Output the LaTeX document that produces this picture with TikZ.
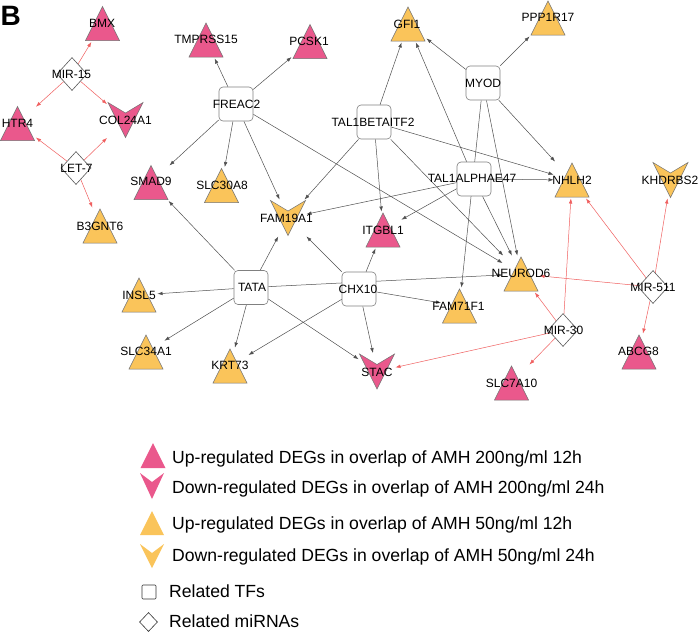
\documentclass[tikz,border=0pt]{standalone}
\usepackage{fontspec}
\setmainfont{Liberation Sans}
\usetikzlibrary{arrows.meta,shapes.geometric}
\pgfdeclarelayer{paper}
\pgfdeclarelayer{edges}
\pgfsetlayers{paper,edges,main}
\definecolor{gpink}{RGB}{234,88,140}
\definecolor{gyel}{RGB}{250,196,90}
\definecolor{tfedge}{RGB}{80,80,80}
\definecolor{miredge}{RGB}{240,95,95}
\newcommand{\GeneUp}[4]{%
  \fill[#4, draw=black!55, line width=0.5pt] (#2,#3) ++(0,-17) -- ++(17,34) -- ++(-34,0) -- cycle;
  \node[gn] (#1) at (#2,#3) {};}
\newcommand{\GeneDown}[4]{%
  \fill[#4, draw=black!55, line width=0.5pt] (#2,#3) ++(-17.5,-17.5) -- ++(17.5,10.5) -- ++(17.5,-10.5) -- ++(-17.5,35) -- cycle;
  \node[gn] (#1) at (#2,#3) {};}
\begin{document}
\begin{tikzpicture}[x=1pt,y=-1pt,
  gn/.style={rectangle, minimum width=34pt, minimum height=34pt, inner sep=0pt, outer sep=1.5pt},
  tf/.style={rectangle, draw=black!50, fill=white, rounded corners=4pt, minimum size=34pt, inner sep=0pt, line width=0.6pt},
  mir/.style={diamond, draw=black!65, fill=white, minimum width=30pt, minimum height=33pt, inner sep=0pt, line width=0.6pt},
  lbl/.style={inner sep=0pt, font=\fontsize{12}{14}\selectfont, text height=8.6pt, text depth=0pt},
  leg/.style={anchor=west, inner sep=0pt, font=\fontsize{17.6}{20}\selectfont, text height=12.6pt, text depth=0pt},
  tfe/.style={draw=tfedge, line width=0.5pt, -{Latex[length=5pt,width=3.6pt]}},
  mie/.style={draw=miredge, line width=0.5pt, -{Latex[length=5pt,width=3.6pt]}}]
\begin{pgfonlayer}{paper}
\fill[white] (0,0) rectangle (700,633);
\end{pgfonlayer}
\useasboundingbox (0,0) rectangle (700,633);

% panel letter
\node[anchor=west, inner sep=0pt, font=\fontsize{28}{30}\selectfont\bfseries, text height=20pt, text depth=0pt] (panel) at (0.5,15) {B};

% genes
\GeneUp{bmx}{102.5}{23.5}{gpink}
\GeneUp{tmprss}{206}{40}{gpink}
\GeneUp{pcsk}{310}{41.5}{gpink}
\GeneUp{gfi}{408}{24}{gyel}
\GeneUp{ppp}{548}{18}{gyel}
\GeneUp{htr}{17.5}{123.5}{gpink}
\GeneDown{col}{125.5}{120}{gpink}
\GeneUp{smad}{151}{182.5}{gpink}
\GeneUp{slc30}{221.5}{185.5}{gyel}
\GeneUp{b3g}{100}{226}{gyel}
\GeneDown{fam19}{288}{218}{gyel}
\GeneUp{itg}{383}{230}{gpink}
\GeneUp{nhlh}{572}{180}{gyel}
\GeneDown{khd}{670.5}{180}{gyel}
\GeneUp{neu}{521}{274}{gyel}
\GeneUp{fam71}{459.5}{306}{gyel}
\GeneUp{insl}{139}{295}{gyel}
\GeneUp{slc34}{146}{352}{gyel}
\GeneUp{krt}{230}{366}{gyel}
\GeneDown{stac}{377}{371.5}{gpink}
\GeneUp{slc7}{511.5}{383}{gpink}
\GeneUp{abcg}{639}{352}{gpink}

% transcription factors
\node[tf] (freac) at (236,104) {};
\node[tf] (talb) at (374,122) {};
\node[tf] (myod) at (483,83) {};
\node[tf] (tala) at (474,179) {};
\node[tf] (tata) at (251,287.5) {};
\node[tf] (chx) at (359,289) {};

% miRNAs
\node[mir] (mir15) at (72,74) {};
\node[mir] (let7) at (76,168) {};
\node[mir] (mir30) at (563,330) {};
\node[mir] (mir511) at (653,287) {};

% edges
\begin{pgfonlayer}{edges}
\draw[tfe] (freac) -- (tmprss);
\draw[tfe] (freac) -- (pcsk);
\draw[tfe] (freac) -- (smad);
\draw[tfe] (freac) -- (slc30);
\draw[tfe] (freac) -- (fam19);
\draw[tfe] (freac) -- (neu);
\draw[tfe] (talb) -- (gfi);
\draw[tfe] (talb) -- (fam19);
\draw[tfe] (talb) -- (itg);
\draw[tfe] (talb) -- (nhlh);
\draw[tfe] (talb) -- (neu);
\draw[tfe] (myod) -- (gfi);
\draw[tfe] (myod) -- (ppp);
\draw[tfe] (myod) -- (nhlh);
\draw[tfe] (myod) -- (neu);
\draw[tfe] (myod) -- (fam71);
\draw[tfe] (tala) -- (gfi);
\draw[tfe] (tala) -- (nhlh);
\draw[tfe] (tala) -- (fam19);
\draw[tfe] (tala) -- (itg);
\draw[tfe] (tala) -- (neu);
\draw[tfe] (tata) -- (smad);
\draw[tfe] (tata) -- (fam19);
\draw[tfe] (tata) -- (insl);
\draw[tfe] (tata) -- (slc34);
\draw[tfe] (tata) -- (krt);
\draw[tfe] (tata) -- (stac);
\draw[tfe] (tata) -- (neu);
\draw[tfe] (chx) -- (fam19);
\draw[tfe] (chx) -- (itg);
\draw[tfe] (chx) -- (fam71);
\draw[tfe] (chx) -- (stac);
\draw[tfe] (chx) -- (krt);
\draw[mie] (mir15) -- (bmx);
\draw[mie] (mir15) -- (htr);
\draw[mie] (mir15) -- (col);
\draw[mie] (let7) -- (htr);
\draw[mie] (let7) -- (col);
\draw[mie] (let7) -- (b3g);
\draw[mie] (mir30) -- (neu);
\draw[mie] (mir30) -- (nhlh);
\draw[mie] (mir30) -- (stac);
\draw[mie] (mir30) -- (slc7);
\draw[mie] (mir511) -- (nhlh);
\draw[mie] (mir511) -- (khd);
\draw[mie] (mir511) -- (neu);
\draw[mie] (mir511) -- (abcg);
\end{pgfonlayer}

% labels
\node[lbl] (bmx-l) at (102,23) {BMX};
\node[lbl] (tmprss-l) at (206,39.5) {TMPRSS15};
\node[lbl] (pcsk-l) at (309,41.5) {PCSK1};
\node[lbl] (gfi-l) at (407,24) {GFI1};
\node[lbl] (ppp-l) at (548,17) {PPP1R17};
\node[lbl] (htr-l) at (17.5,123) {HTR4};
\node[lbl] (col-l) at (125.5,120.5) {COL24A1};
\node[lbl] (smad-l) at (151,181.5) {SMAD9};
\node[lbl] (slc30-l) at (222,185) {SLC30A8};
\node[lbl] (b3g-l) at (100,226) {B3GNT6};
\node[lbl] (fam19-l) at (286.5,218) {FAM19A1};
\node[lbl] (itg-l) at (383,230) {ITGBL1};
\node[lbl] (nhlh-l) at (572,180.5) {NHLH2};
\node[lbl] (khd-l) at (670,180) {KHDRBS2};
\node[lbl] (neu-l) at (521,273) {NEUROD6};
\node[lbl] (fam71-l) at (458.5,306) {FAM71F1};
\node[lbl] (insl-l) at (139,295) {INSL5};
\node[lbl] (slc34-l) at (146,351.5) {SLC34A1};
\node[lbl] (krt-l) at (230,365.5) {KRT73};
\node[lbl] (stac-l) at (377,372) {STAC};
\node[lbl] (slc7-l) at (511.5,383) {SLC7A10};
\node[lbl] (abcg-l) at (638.5,351.5) {ABCG8};
\node[lbl] (freac-l) at (236.5,104) {FREAC2};
\node[lbl] (talb-l) at (373,122) {TAL1BETAITF2};
\node[lbl] (myod-l) at (483,83) {MYOD};
\node[lbl] (tala-l) at (472,178) {TAL1ALPHAE47};
\node[lbl] (tata-l) at (252,287) {TATA};
\node[lbl] (chx-l) at (358,289) {CHX10};
\node[lbl] (mir15-l) at (71.5,74) {MIR-15};
\node[lbl] (let7-l) at (76.5,168) {LET-7};
\node[lbl] (mir30-l) at (563.5,330) {MIR-30};
\node[lbl] (mir511-l) at (653,287) {MIR-511};

% legend
\fill[gpink] (153,443) -- (165.5,468) -- (140.5,468) -- cycle;
\fill[gpink] (140,473) -- (152,482) -- (164,473) -- (152,499) -- cycle;
\fill[gyel] (152,511) -- (164,535) -- (140,535) -- cycle;
\fill[gyel] (140,544) -- (152,553) -- (164,544) -- (152,568) -- cycle;
\node[draw=black!80, fill=white, rounded corners=1pt, minimum size=14pt, inner sep=0pt, line width=0.6pt] (legtf) at (149,592) {};
\node[diamond, draw=black!80, fill=white, minimum width=18pt, minimum height=19pt, inner sep=0pt, line width=0.6pt] (legmir) at (148.5,622) {};
\node[leg] (leg1) at (172,457) {Up-regulated DEGs in overlap of AMH 200ng/ml 12h};
\node[leg] (leg2) at (172,487) {Down-regulated DEGs in overlap of AMH 200ng/ml 24h};
\node[leg] (leg3) at (172,523) {Up-regulated DEGs in overlap of AMH 50ng/ml 12h};
\node[leg] (leg4) at (172,555) {Down-regulated DEGs in overlap of AMH 50ng/ml 24h};
\node[leg] (leg5) at (169,591) {Related TFs};
\node[leg] (leg6) at (169,621) {Related miRNAs};
\end{tikzpicture}
\end{document}
